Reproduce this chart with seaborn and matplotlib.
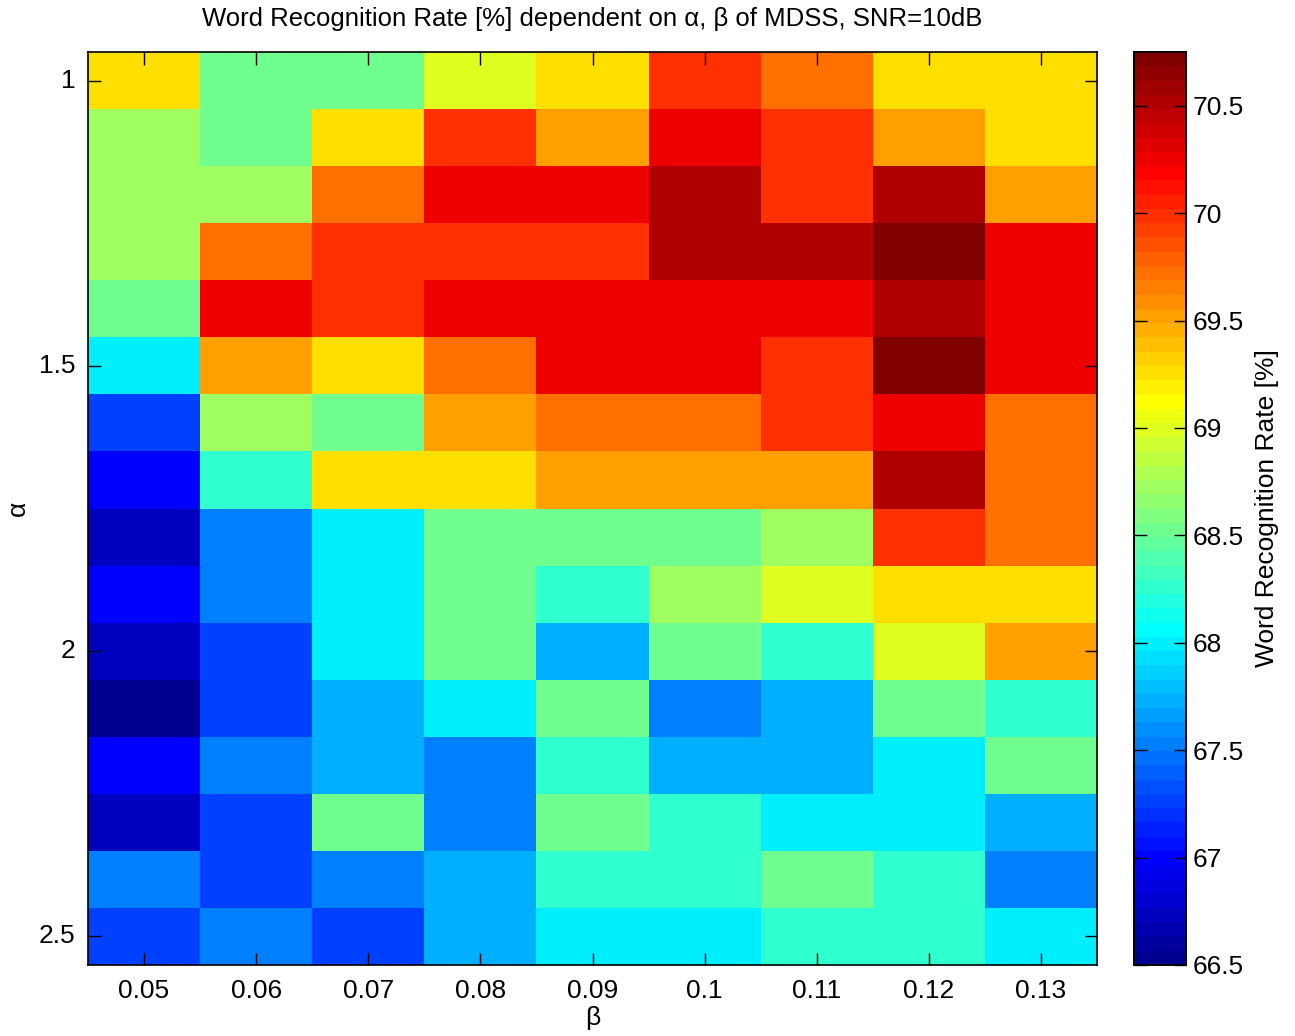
import numpy as np
import pandas as pd
import seaborn as sns
import matplotlib.pyplot as plt
from matplotlib.colors import ListedColormap

# word recognition rate [%] per alpha (rows) and beta (columns)
alpha = [1.0, 1.1, 1.2, 1.3, 1.4, 1.5, 1.6, 1.7, 1.8, 1.9, 2.0, 2.1, 2.2, 2.3, 2.4, 2.5]
beta = [0.05, 0.06, 0.07, 0.08, 0.09, 0.1, 0.11, 0.12, 0.13]
beta_labels = ["0.05", "0.06", "0.07", "0.08", "0.09", "0.1", "0.11", "0.12", "0.13"]

rate_10 = [69.25, 68.5, 68.5, 69.0, 69.25, 70.0, 69.75, 69.25, 69.25]
rate_11 = [68.75, 68.5, 69.25, 70.0, 69.5, 70.25, 70.0, 69.5, 69.25]
rate_12 = [68.75, 68.75, 69.75, 70.25, 70.25, 70.5, 70.0, 70.5, 69.5]
rate_13 = [68.75, 69.75, 70.0, 70.0, 70.0, 70.5, 70.5, 70.75, 70.25]
rate_14 = [68.5, 70.25, 70.0, 70.25, 70.25, 70.25, 70.25, 70.5, 70.25]
rate_15 = [68.0, 69.5, 69.25, 69.75, 70.25, 70.25, 70.0, 70.75, 70.25]
rate_16 = [67.25, 68.75, 68.5, 69.5, 69.75, 69.75, 70.0, 70.25, 69.75]
rate_17 = [67.0, 68.25, 69.25, 69.25, 69.5, 69.5, 69.5, 70.5, 69.75]
rate_18 = [66.75, 67.5, 68.0, 68.5, 68.5, 68.5, 68.75, 70.0, 69.75]
rate_19 = [67.0, 67.5, 68.0, 68.5, 68.25, 68.75, 69.0, 69.25, 69.25]
rate_20 = [66.75, 67.25, 68.0, 68.5, 67.75, 68.5, 68.25, 69.0, 69.5]
rate_21 = [66.5, 67.25, 67.75, 68.0, 68.5, 67.5, 67.75, 68.5, 68.25]
rate_22 = [67.0, 67.5, 67.75, 67.5, 68.25, 67.75, 67.75, 68.0, 68.5]
rate_23 = [66.75, 67.25, 68.5, 67.5, 68.5, 68.25, 68.0, 68.0, 67.75]
rate_24 = [67.5, 67.25, 67.5, 67.75, 68.25, 68.25, 68.5, 68.25, 67.5]
rate_25 = [67.25, 67.5, 67.25, 67.75, 68.0, 68.0, 68.25, 68.25, 68.0]

rows = [rate_10, rate_11, rate_12, rate_13, rate_14, rate_15, rate_16, rate_17,
        rate_18, rate_19, rate_20, rate_21, rate_22, rate_23, rate_24, rate_25]
df = pd.DataFrame(rows, index=alpha, columns=beta)


def matlab_jet(m=64):
    # same construction as matlab's jet(m)
    n = int(np.ceil(m / 4))
    u = np.concatenate([np.arange(1, n + 1) / n, np.ones(n - 1), np.arange(n, 0, -1) / n])
    g = int(np.ceil(n / 2)) - (1 if m % 4 == 1 else 0) + np.arange(1, len(u) + 1)
    r = g + n
    b = g - n
    J = np.zeros((m, 3))
    for ch, idx in enumerate([r, g, b]):
        ok = (idx >= 1) & (idx <= m)
        J[idx[ok] - 1, ch] = u[ok]
    return ListedColormap(J)


plt.rcParams['font.family'] = ['Liberation Sans', 'DejaVu Sans']

fig = plt.figure(figsize=(12.95, 10.36), dpi=100)
ax = fig.add_axes([88 / 1295, 71 / 1036, 1009 / 1295, 913 / 1036])
cax = fig.add_axes([1134 / 1295, 71 / 1036, 52 / 1295, 913 / 1036])

sns.heatmap(df, cmap=matlab_jet(64), vmin=66.5, vmax=70.75, ax=ax, cbar_ax=cax,
            cbar_kws={"ticks": np.arange(66.5, 70.51, 0.5)})

ax.set_xticks(np.arange(len(beta)) + 0.5)
ax.set_xticklabels(beta_labels, rotation=0, fontsize=19)
ax.set_yticks([0.5, 5.5, 10.5, 15.5])
ax.set_yticklabels(["1", "1.5", "2", "2.5"], rotation=0, fontsize=19)
ax.tick_params(direction="in", length=9, width=1, top=True, right=True,
               bottom=True, left=True, pad=10)
ax.tick_params(axis="y", pad=9)
for s in ax.spines.values():
    s.set_visible(True)
    s.set_linewidth(1.2)
    s.set_color("black")

ax.set_xlabel("β", fontsize=19, labelpad=2)
ax.set_ylabel("α", fontsize=19)
ax.yaxis.set_label_coords(-0.058, 0.5)
ax.set_title("Word Recognition Rate [%] dependent on α, β of MDSS, SNR=10dB",
             fontsize=18.5, pad=19)

cax.tick_params(direction="in", length=9, width=1, left=True, right=True,
                labelsize=19, pad=5)
cax.set_yticklabels(["66.5", "67", "67.5", "68", "68.5", "69", "69.5", "70", "70.5"])
cax.set_ylabel("Word Recognition Rate [%]", fontsize=19, labelpad=8)
cax.yaxis.set_label_position("right")
for s in cax.spines.values():
    s.set_visible(True)
    s.set_linewidth(1.2)
    s.set_color("black")

fig.savefig("out.png", dpi=100)
